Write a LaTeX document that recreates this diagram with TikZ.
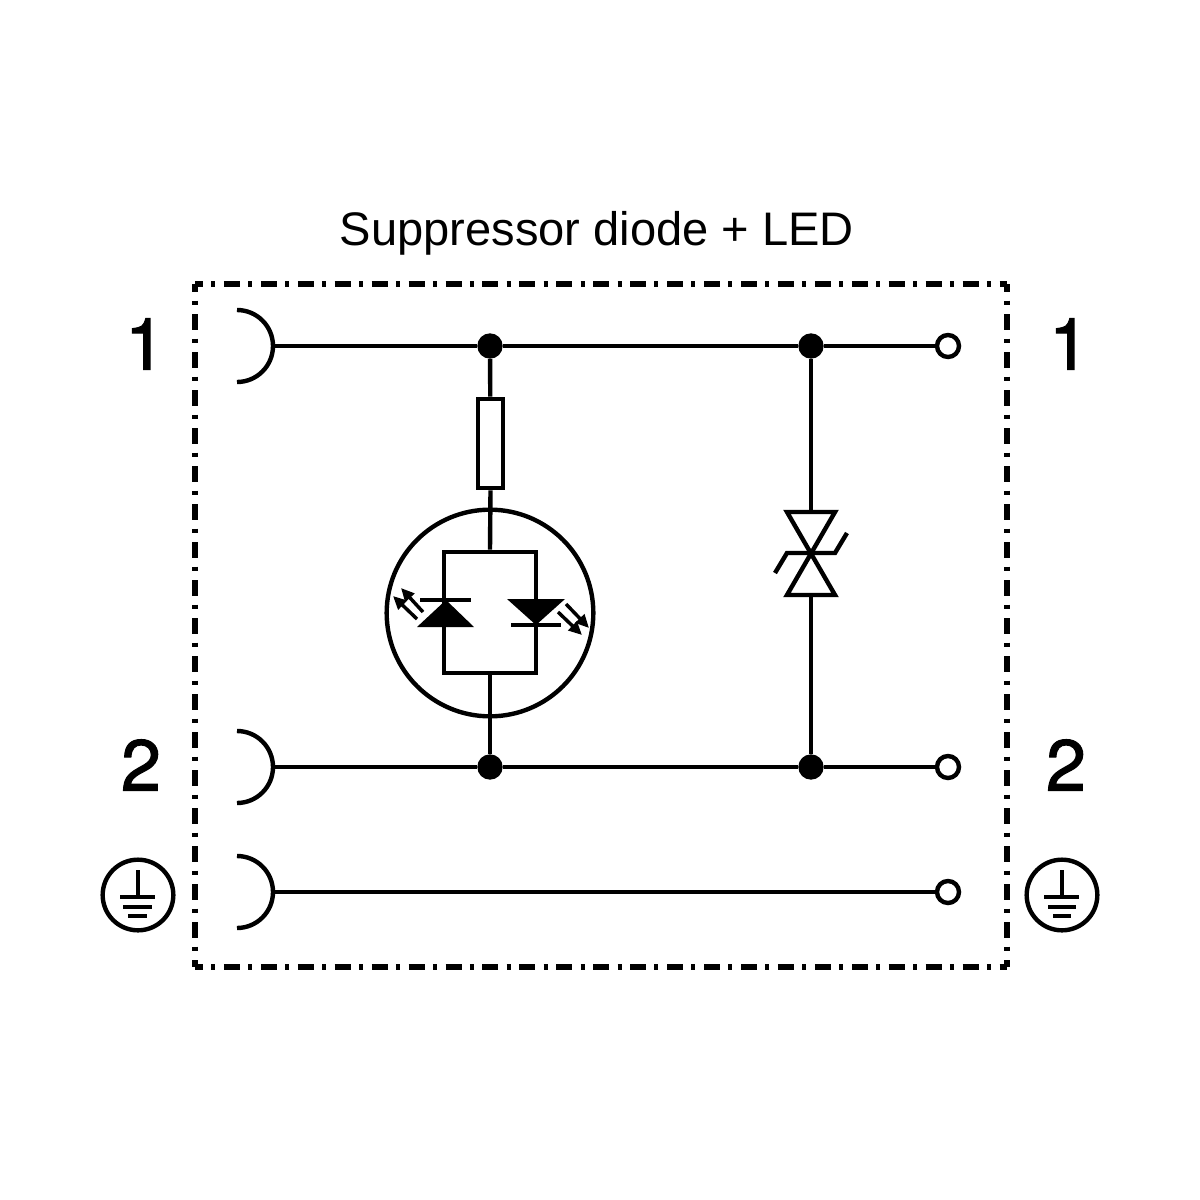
\documentclass[tikz,border=0pt]{standalone}
\usepackage{fontspec}
\setmainfont{Liberation Sans}
\newfontfamily\pinfont[FakeBold=1.5]{TeX Gyre Heros}
\usetikzlibrary{arrows.meta}
\begin{document}
\begin{tikzpicture}[x=0.75pt,y=0.75pt,yscale=-1,xscale=1,
  wire/.style={line width=3.3pt},
  frameh/.style={line width=3.8pt,dash pattern=on 12pt off 6.2pt on 3pt off 6.5pt,dash phase=6pt},
  framev/.style={line width=3.8pt,dash pattern=on 12pt off 6.5pt on 3pt off 7pt,dash phase=6pt},
  junction/.style={circle,fill=black,draw=none,minimum size=19pt,inner sep=0pt},
  terminal/.style={circle,draw,line width=3.3pt,fill=white,minimum size=16.5pt,inner sep=0pt},
  bigtext/.style={inner sep=0pt,font=\pinfont\fontsize{54}{54}\selectfont},
  earthring/.style={circle,draw,line width=3.3pt,minimum size=53pt,inner sep=0pt},
  ledarrow/.style={line width=2.6pt,-{Triangle[length=10pt,width=9pt]}}]
\useasboundingbox (0,0) rectangle (1200,1200);

% Text Node
\node (title) [inner sep=0pt,font=\fontsize{35.3}{35.3}\selectfont] at (597,233) {Suppressor diode + LED};

%Dash dot frame
\coordinate (tl) at (195,284);
\coordinate (tr) at (1007,284);
\coordinate (bl) at (195,967);
\coordinate (br) at (1007,967);
\draw [frameh] (tl) -- (tr);
\draw [frameh] (bl) -- (br);
\draw [framev] (tl) -- (bl);
\draw [framev] (tr) -- (br);

%Sockets
\coordinate (socketa) at (273,346);
\coordinate (socketb) at (273,767);
\coordinate (socketc) at (273,892);
\draw [wire] (237,310) arc (-90:90:36);
\draw [wire] (237,731) arc (-90:90:36);
\draw [wire] (237,856) arc (-90:90:36);

%Terminals and junctions
\node (terma) [terminal] at (948,346) {};
\node (termb) [terminal] at (948,767) {};
\node (termc) [terminal] at (948,892) {};
\node (ja) [junction] at (490,346) {};
\node (jb) [junction] at (811,346) {};
\node (jc) [junction] at (490,767) {};
\node (jd) [junction] at (811,767) {};

%Straight Lines
\draw [wire] (socketa) -- (ja);
\draw [wire] (ja) -- (jb);
\draw [wire] (jb) -- (terma);
\draw [wire] (socketb) -- (jc);
\draw [wire] (jc) -- (jd);
\draw [wire] (jd) -- (termb);
\draw [wire] (socketc) -- (termc);

%Resistor and LED ring
\node (res) [draw,line width=3.3pt,minimum width=19pt,minimum height=67pt,inner sep=0pt] at (490.5,443.5) {};
\node (ledring) [circle,draw,line width=3.3pt,minimum size=155pt,inner sep=0pt] at (490,613) {};
\node (ledbox) [draw,line width=3.3pt,minimum width=69pt,minimum height=91pt,inner sep=0pt] at (490,612.5) {};
\draw [wire] (ja) -- (res);
\draw [wire] (res.south) -- (ledbox.north);
\draw [wire] (ledbox) -- (jc);

%Left LED
\fill (446,600) -- (474,627) -- (417,627) -- cycle;
\draw [wire] (420,600) -- (471,600);
\draw [ledarrow] (423,612) -- (401,588);
\draw [ledarrow] (417,619) -- (393,596);

%Right LED
\fill (536,625) -- (507,599) -- (565,599) -- cycle;
\draw [wire] (511,625) -- (561,625);
\draw [ledarrow] (566,604) -- (589,628);
\draw [ledarrow] (558,612) -- (582,635);

%Suppressor diode
\coordinate (tvstop) at (811,512);
\coordinate (tvsbot) at (811,595);
\draw [wire] (jb) -- (tvstop);
\draw [wire] (tvsbot) -- (jd);
\draw [wire,line join=miter] (787,512) -- (835,512) -- (787,595) -- (835,595) -- cycle;
\draw [wire] (775,573) -- (787,553) -- (835,553) -- (847,533);

% Text Node
\node (lefta) [bigtext] at (145,344) {1};
\node (leftb) [bigtext] at (141,765) {2};
\node (righta) [bigtext] at (1069,344) {1};
\node (rightb) [bigtext] at (1066,765) {2};

%Earth symbols
\node (earthl) [earthring] at (138,895) {};
\coordinate (earthlstem) at (138,870);
\coordinate (earthlfoot) at (138,897);
\draw [wire] (earthlstem) -- (earthlfoot);
\draw [wire] (120,897) -- (155,897);
\draw [wire] (123,907) -- (152,907);
\draw [wire] (128,916) -- (147,916);
\node (earthr) [earthring] at (1062,895) {};
\coordinate (earthrstem) at (1062,870);
\coordinate (earthrfoot) at (1062,897);
\draw [wire] (earthrstem) -- (earthrfoot);
\draw [wire] (1044,897) -- (1079,897);
\draw [wire] (1048,907) -- (1076,907);
\draw [wire] (1053,916) -- (1071,916);

\end{tikzpicture}
\end{document}
